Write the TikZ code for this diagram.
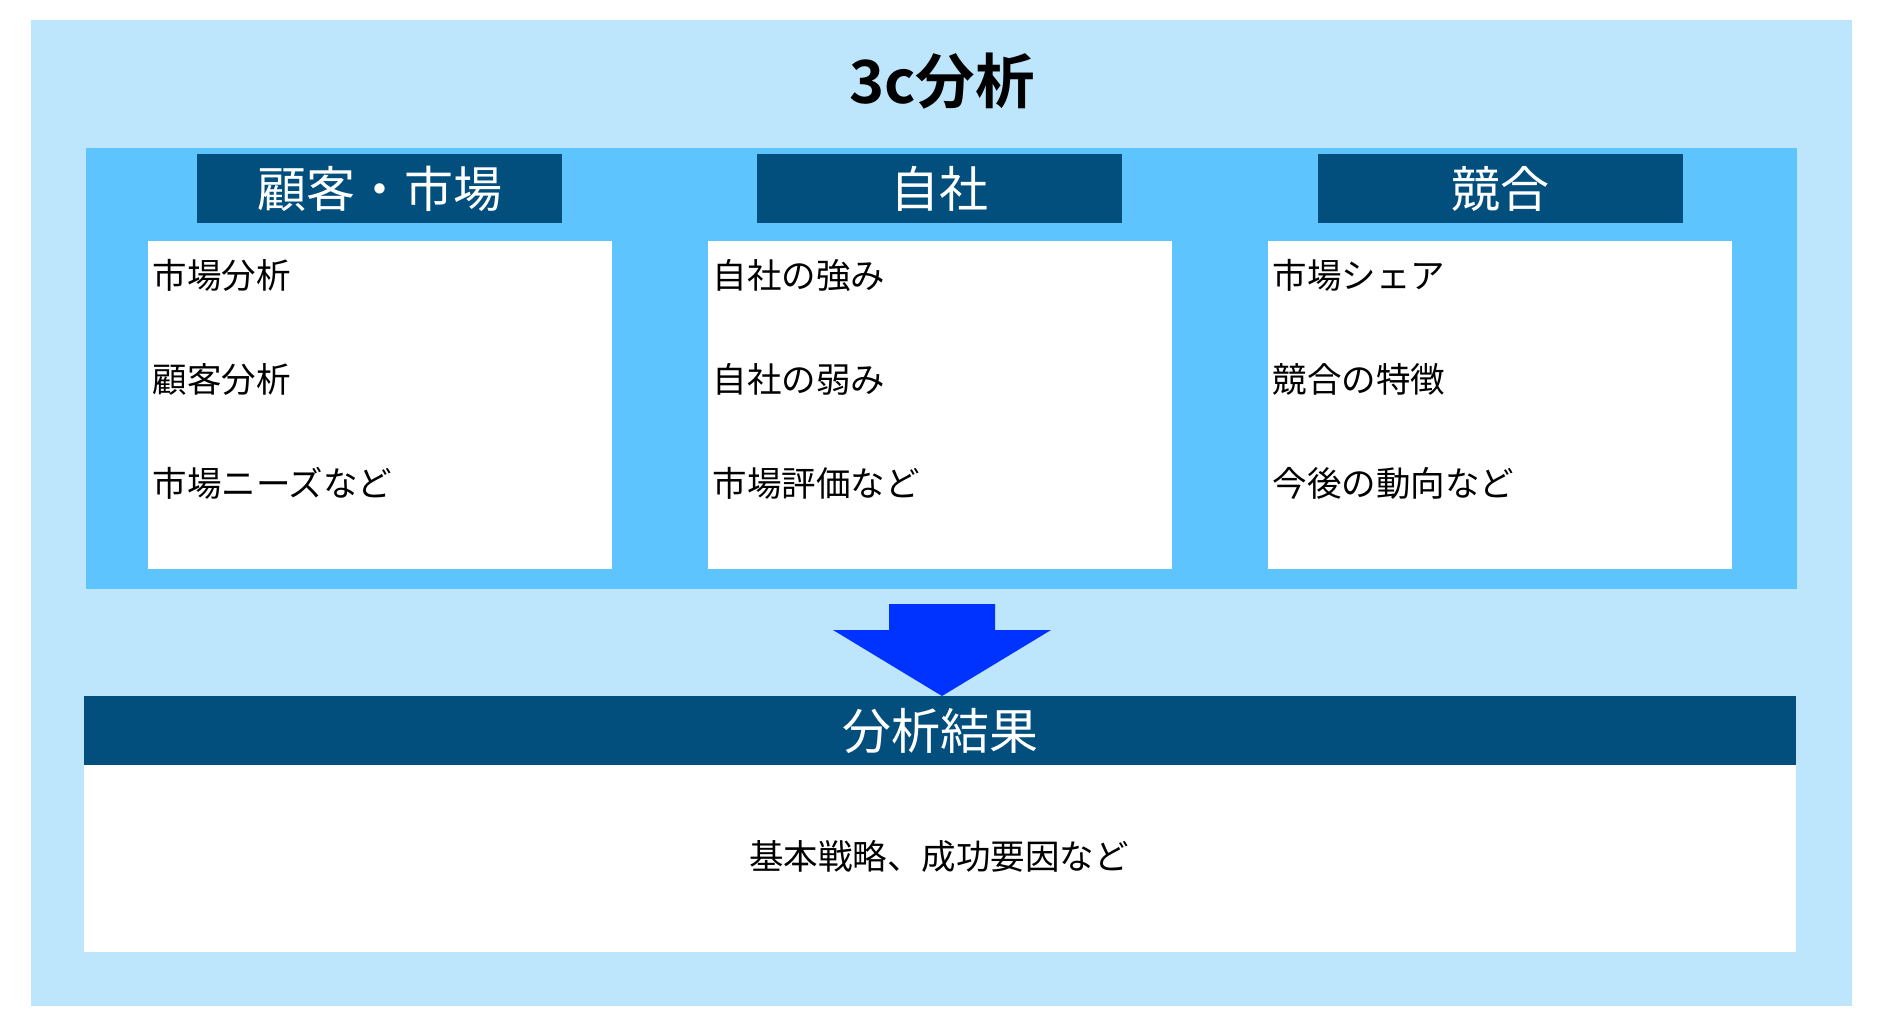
\documentclass[tikz,border=0pt]{standalone}
\usepackage{fontspec}
\setmainfont{Noto Sans CJK JP}
\newfontfamily\jpbold{Noto Sans CJK JP Bold}
\definecolor{outerbg}{HTML}{BDE5FC}
\definecolor{midbg}{HTML}{5EC4FD}
\definecolor{darkhd}{HTML}{024F7E}
\definecolor{arrowblue}{HTML}{0033FF}
\tikzset{
  box/.style={inner sep=0pt, outer sep=0pt, draw=none},
  hdr/.style={box, fill=darkhd, minimum width=365pt, minimum height=69pt, text=white, font=\fontsize{49}{53}\selectfont},
  wbox/.style={box, fill=white, minimum width=464pt, minimum height=328pt},
  item/.style={inner sep=0pt, anchor=west, text=black, font=\fontsize{34.5}{40}\selectfont},
}
\begin{document}
\begin{tikzpicture}[x=1pt,y=-1pt]
\useasboundingbox (0,0) rectangle (1882,1028);
\node[box, fill=outerbg, minimum width=1821pt, minimum height=986pt] (outer) at (941.5,513) {};
\node[inner sep=0pt, font=\jpbold\fontsize{59.5}{64}\selectfont] (title) at (942,81) {3c分析};
\node[box, fill=midbg, minimum width=1711pt, minimum height=441pt] (mid) at (941.5,368.5) {};

\node[hdr] (h1) at (379.5,188.5) {顧客・市場};
\node[hdr] (h2) at (939.5,188.5) {自社};
\node[hdr] (h3) at (1500.5,188.5) {競合};

\node[wbox] (w1) at (380,405) {};
\node[wbox] (w2) at (940,405) {};
\node[wbox] (w3) at (1500,405) {};

\node[item] (a1) at (152.5,275) {市場分析};
\node[item] (a2) at (152.5,379) {顧客分析};
\node[item] (a3) at (152.5,483) {市場ニーズなど};

\node[item] (b1) at (712.5,275) {自社の強み};
\node[item] (b2) at (712.5,379) {自社の弱み};
\node[item] (b3) at (712.5,483) {市場評価など};

\node[item] (c1) at (1272.5,275) {市場シェア};
\node[item] (c2) at (1272.5,379) {競合の特徴};
\node[item] (c3) at (1272.5,483) {今後の動向など};

\fill[arrowblue] (889,604) -- (995,604) -- (995,630) -- (1051,630) -- (942,696) -- (833,630) -- (889,630) -- cycle;

\node[box, fill=white, minimum width=1712pt, minimum height=187pt] (res) at (940,858.5) {};
\node[hdr, minimum width=1712pt] (rh) at (940,730.5) {分析結果};
\node[inner sep=0pt, font=\fontsize{34.5}{40}\selectfont] (rt) at (939,856) {基本戦略、成功要因など};
\end{tikzpicture}
\end{document}
